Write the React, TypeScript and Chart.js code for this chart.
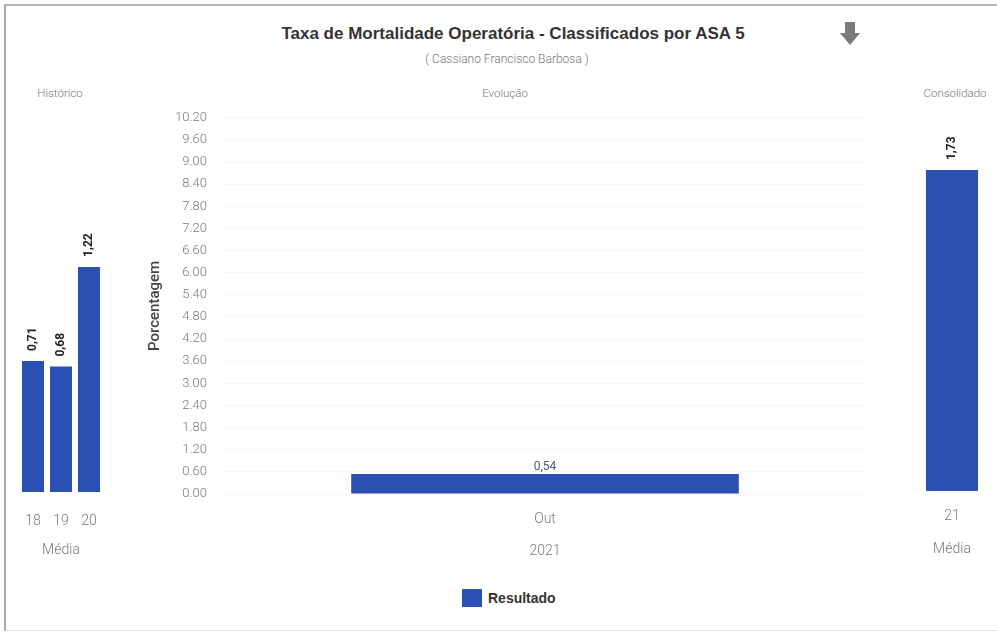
import React, { useEffect, useRef } from "react";
import { Chart, registerables } from "chart.js";

Chart.register(...registerables);

const TITLE = "Taxa de Mortalidade Operatória - Classificados por ASA 5";
const SUBTITLE = "( Cassiano Francisco Barbosa )";

const histLabels = ["18", "19", "20"];
const histValues = [0.71, 0.68, 1.22];

const evoLabels = ["Out"];
const evoYear = "2021";
const evoValues = [0.54];
const evoTicks = [0, 0.6, 1.2, 1.8, 2.4, 3.0, 3.6, 4.2, 4.8, 5.4, 6.0, 6.6, 7.2, 7.8, 8.4, 9.0, 9.6, 10.2];

const consLabels = ["21"];
const consValues = [1.73];

const BLUE = "#2b50b4";
const TICK_COLOR = "#7a7a7a";
const FONT = "Roboto, 'Liberation Sans', sans-serif";

const fmt = (v: number) => v.toFixed(2).replace(".", ",");

const verticalLabelPlugin = {
  id: "vlabels",
  afterDatasetsDraw(chart: any) {
    const ctx = chart.ctx;
    const meta = chart.getDatasetMeta(0);
    const data = chart.data.datasets[0].data;
    ctx.save();
    ctx.font = `bold 12px ${FONT}`;
    ctx.fillStyle = "#222";
    ctx.textAlign = "left";
    ctx.textBaseline = "middle";
    meta.data.forEach((bar: any, i: number) => {
      ctx.save();
      ctx.translate(bar.x, bar.y - 10);
      ctx.rotate(-Math.PI / 2);
      ctx.fillText(fmt(data[i]), 0, 0);
      ctx.restore();
    });
    ctx.restore();
  },
};

const horizontalLabelPlugin = {
  id: "hlabels",
  afterDatasetsDraw(chart: any) {
    const ctx = chart.ctx;
    const meta = chart.getDatasetMeta(0);
    const data = chart.data.datasets[0].data;
    ctx.save();
    ctx.font = `12px ${FONT}`;
    ctx.fillStyle = "#4a5a7a";
    ctx.textAlign = "center";
    ctx.textBaseline = "bottom";
    meta.data.forEach((bar: any, i: number) => {
      ctx.fillText(fmt(data[i]), bar.x, bar.y - 1);
    });
    ctx.restore();
  },
};

function SideChart(props: {
  labels: string[];
  values: number[];
  width: number;
  height: number;
  barPct: number;
  pad: { left: number; right: number; top: number };
  axisH: number;
  tickPad: number;
  titlePad: number;
}) {
  const ref = useRef<HTMLCanvasElement>(null);
  useEffect(() => {
    const chart = new Chart(ref.current!, {
      type: "bar",
      data: {
        labels: props.labels,
        datasets: [
          {
            label: "Resultado",
            data: props.values,
            backgroundColor: BLUE,
            barPercentage: props.barPct,
            categoryPercentage: 1,
          },
        ],
      },
      options: {
        responsive: false,
        animation: false,
        layout: { padding: { left: props.pad.left, right: props.pad.right, top: props.pad.top, bottom: 0 } },
        plugins: { legend: { display: false }, tooltip: { enabled: false }, title: { display: false } },
        scales: {
          y: { display: false, min: 0, max: 2 },
          x: {
            grid: { display: false, drawTicks: false },
            border: { display: false },
            ticks: { color: TICK_COLOR, font: { family: FONT, size: 14, weight: "300" }, padding: props.tickPad },
            title: {
              display: true,
              text: "Média",
              color: TICK_COLOR,
              font: { family: FONT, size: 14, weight: "300" },
              padding: { top: 0, bottom: props.titlePad },
            },
            afterFit: (s: any) => {
              s.height = props.axisH;
              s.paddingLeft = 0;
              s.paddingRight = 0;
            },
          },
        },
      },
      plugins: [verticalLabelPlugin],
    } as any);
    return () => chart.destroy();
  }, []);
  return <canvas ref={ref} width={props.width} height={props.height} style={{ display: "block" }} />;
}

function EvoChart() {
  const ref = useRef<HTMLCanvasElement>(null);
  useEffect(() => {
    const chart = new Chart(ref.current!, {
      type: "bar",
      data: {
        labels: evoLabels,
        datasets: [
          {
            label: "Resultado",
            data: evoValues,
            backgroundColor: BLUE,
            barPercentage: 0.6,
            categoryPercentage: 1,
          },
        ],
      },
      options: {
        responsive: false,
        animation: false,
        layout: { padding: { left: 0, right: 12, top: 11, bottom: 0 } },
        plugins: { legend: { display: false }, tooltip: { enabled: false } },
        scales: {
          y: {
            min: 0,
            max: 10.2,
            afterBuildTicks: (s: any) => {
              s.ticks = evoTicks.map((v) => ({ value: v }));
            },
            grid: { color: "rgba(0,0,0,0.04)", drawTicks: false },
            border: { display: false },
            ticks: {
              color: TICK_COLOR,
              font: { family: FONT, size: 13, weight: "300" },
              padding: 15,
              callback: (v: any) => Number(v).toFixed(2),
            },
            title: {
              display: true,
              text: "Porcentagem",
              color: "#444",
              font: { family: FONT, size: 15, weight: "500" },
              padding: { top: 6, bottom: 0 },
            },
            afterFit: (s: any) => {
              s.width = 82;
            },
          },
          x: {
            grid: { display: false, drawTicks: false },
            border: { display: false },
            ticks: { color: TICK_COLOR, font: { family: FONT, size: 14, weight: "300" }, padding: 17 },
            title: {
              display: true,
              text: evoYear,
              color: TICK_COLOR,
              font: { family: FONT, size: 14, weight: "300" },
              padding: { top: 0, bottom: 5 },
            },
            afterFit: (s: any) => {
              s.height = 71;
              s.paddingLeft = 0;
              s.paddingRight = 0;
            },
          },
        },
      },
      plugins: [horizontalLabelPlugin],
    } as any);
    return () => chart.destroy();
  }, []);
  return <canvas ref={ref} width={740} height={470} style={{ display: "block" }} />;
}

const headerStyle: React.CSSProperties = {
  position: "absolute",
  top: 86,
  fontFamily: FONT,
  fontSize: 11.5,
  fontWeight: 300,
  color: "#777",
  transform: "translateX(-50%)",
  whiteSpace: "nowrap",
};

export default function App() {
  return (
    <div style={{ position: "absolute", left: 0, top: 0, width: 997, height: 635, background: "#fff", overflow: "hidden" }}>
      <div
        style={{
          position: "absolute",
          left: 4,
          top: 4,
          width: 994,
          height: 627,
          borderLeft: "2px solid #a8a8a8",
          borderTop: "2px solid #b8b8b8",
          borderBottom: "1px solid #e2e2e2",
          boxSizing: "border-box",
        }}
      />
      <div
        style={{
          position: "absolute",
          left: 513,
          top: 24,
          transform: "translateX(-50%)",
          fontFamily: "'Liberation Sans', Arial, sans-serif",
          fontWeight: 700,
          fontSize: 17,
          color: "#333",
          whiteSpace: "nowrap",
        }}
      >
        {TITLE}
      </div>
      <div
        style={{
          position: "absolute",
          left: 507,
          top: 52,
          transform: "translateX(-50%)",
          fontFamily: FONT,
          fontWeight: 300,
          fontSize: 12,
          color: "#777",
          whiteSpace: "nowrap",
        }}
      >
        {SUBTITLE}
      </div>
      <svg style={{ position: "absolute", left: 840, top: 22 }} width={20} height={24} viewBox="0 0 20 24">
        <polygon points="5,0 15,0 15,11 20,11 10,23 0,11 5,11" fill="#7a7a7a" />
      </svg>
      <div style={{ ...headerStyle, left: 60 }}>Histórico</div>
      <div style={{ ...headerStyle, left: 505 }}>Evolução</div>
      <div style={{ ...headerStyle, left: 955 }}>Consolidado</div>

      <div style={{ position: "absolute", left: 10, top: 100 }}>
        <SideChart
          labels={histLabels}
          values={histValues}
          width={105}
          height={470}
          barPct={22 / 28}
          pad={{ left: 9, right: 12, top: 23 }}
          axisH={78}
          tickPad={21}
          titlePad={11}
        />
      </div>
      <div style={{ position: "absolute", left: 140, top: 95 }}>
        <EvoChart />
      </div>
      <div style={{ position: "absolute", left: 895, top: 100 }}>
        <SideChart
          labels={consLabels}
          values={consValues}
          width={100}
          height={470}
          barPct={52 / 64}
          pad={{ left: 25, right: 11, top: 20 }}
          axisH={79}
          tickPad={17}
          titlePad={12}
        />
      </div>

      <div style={{ position: "absolute", left: 462, top: 589, display: "flex", alignItems: "center" }}>
        <div style={{ width: 20, height: 18, background: BLUE }} />
        <div
          style={{
            marginLeft: 6,
            fontFamily: "'Liberation Sans', Arial, sans-serif",
            fontWeight: 700,
            fontSize: 14,
            color: "#333",
          }}
        >
          Resultado
        </div>
      </div>
    </div>
  );
}
